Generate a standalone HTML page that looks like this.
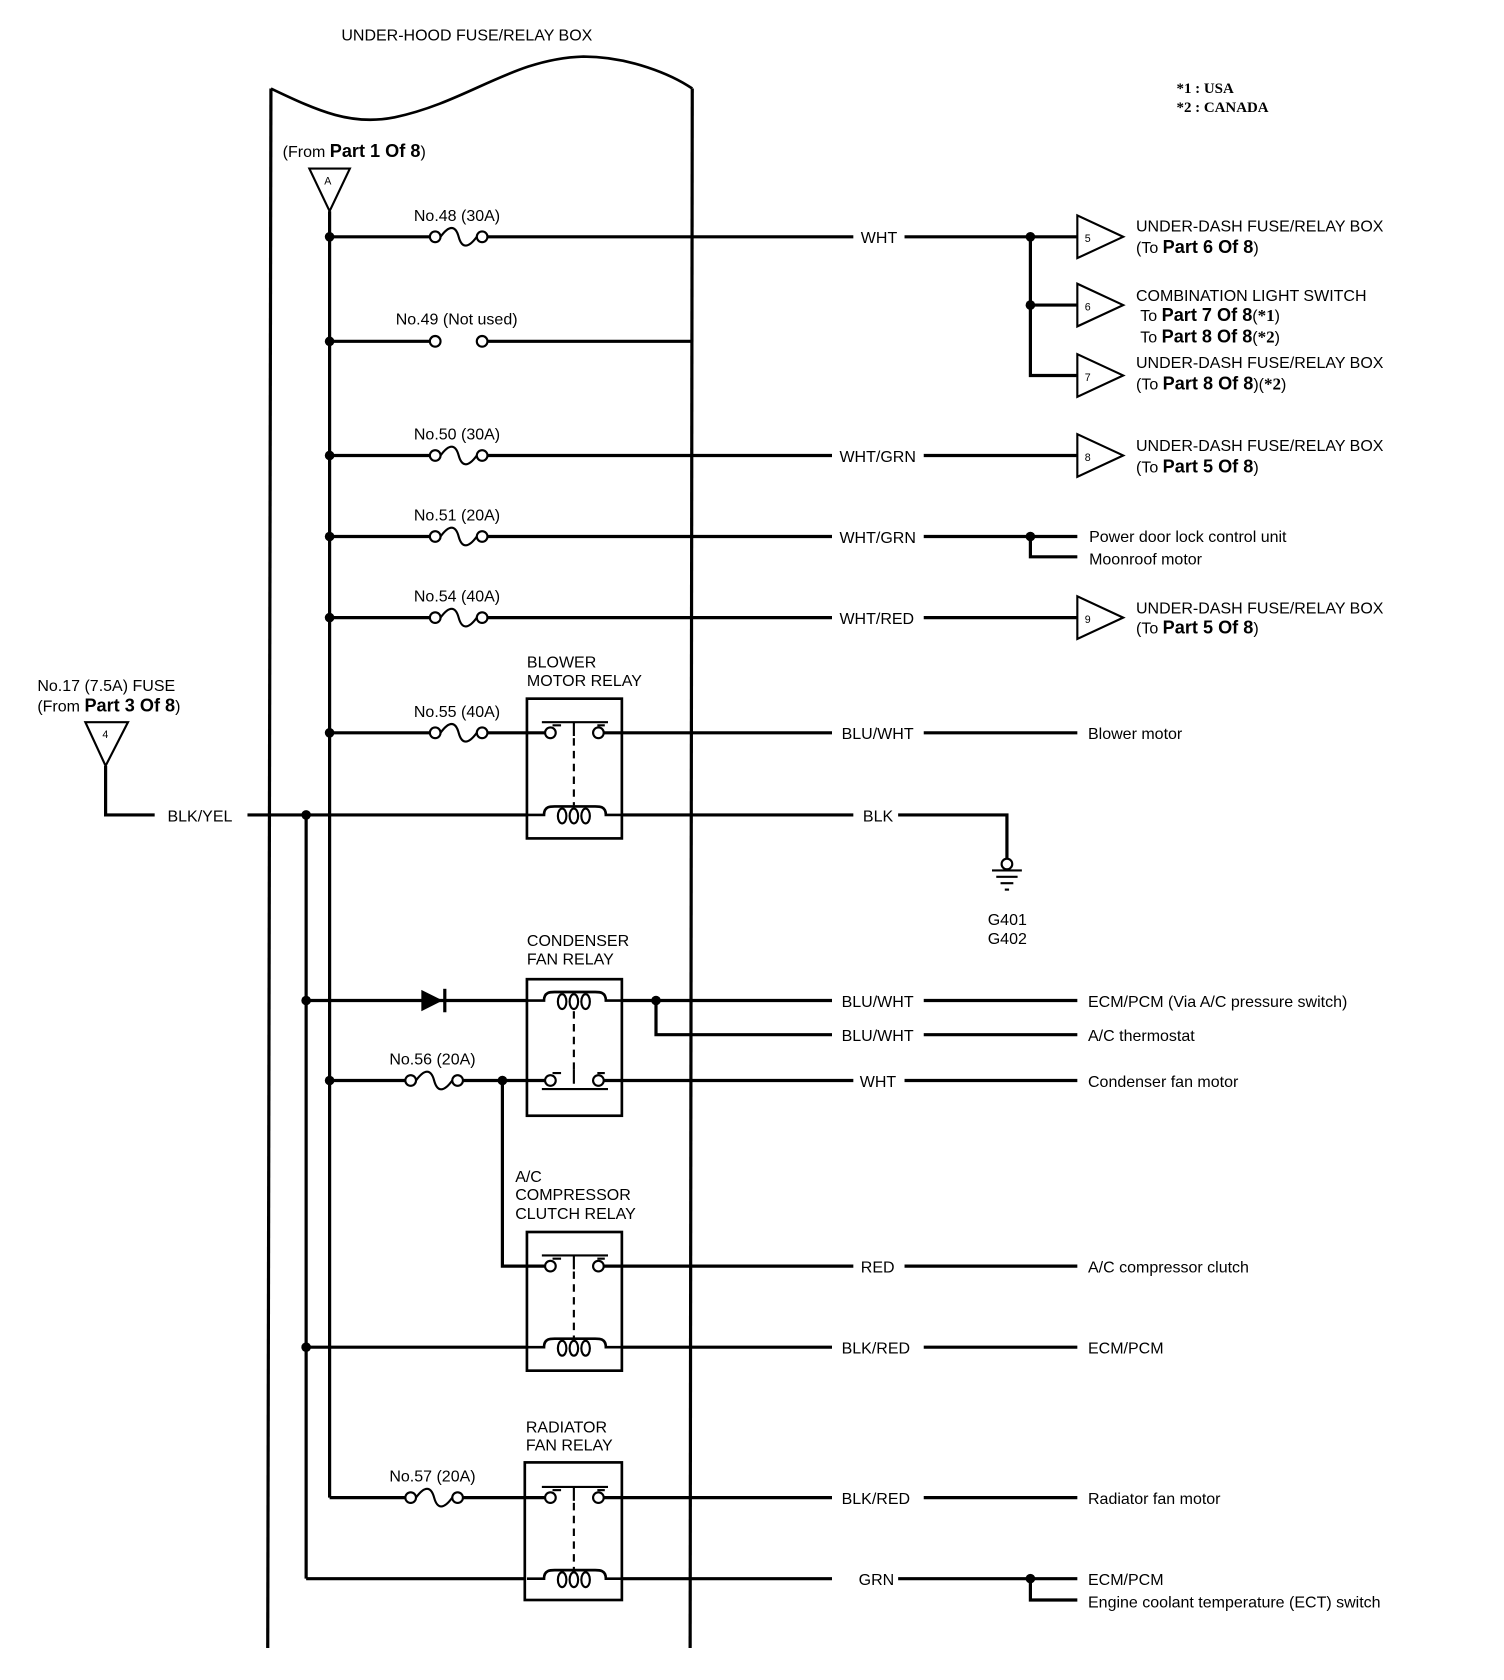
<!DOCTYPE html>
<html><head><meta charset="utf-8"><style>
html,body{margin:0;padding:0;background:#fff}
svg{display:block}
text{font-family:"Liberation Sans",sans-serif;font-size:15px;fill:#000}
.b{font-weight:bold;font-size:17px}
.s{font-family:"Liberation Serif",serif;font-weight:bold;font-size:14px}
</style></head><body>
<svg width="1504" height="1680" viewBox="0 0 1410 1575" xmlns="http://www.w3.org/2000/svg">
<g fill="none" stroke="#000" stroke-width="3">
<!-- box -->
<path d="M254,83 C300,105 330,118 370,110 C440,95 480,55 547,53 C590,53 630,70 649,83" stroke-width="2.5"/>
<line x1="254" y1="83" x2="251" y2="1545"/>
<line x1="649" y1="83" x2="647" y2="1545"/>
<!-- bus -->
<line x1="309" y1="198" x2="309" y2="1404"/>
<line x1="287" y1="764" x2="287" y2="1480"/>
<polygon points="290,158 328,158 309,198" stroke-width="2"/>
<polygon points="80,677 120,677 99,718" stroke-width="2"/>
<polyline points="99,718 99,764 145,764"/>
<line x1="232" y1="764" x2="494" y2="764"/>
<!-- row 48 -->
<line x1="309" y1="222" x2="403" y2="222"/><line x1="457" y1="222" x2="800" y2="222"/>
<line x1="848" y1="222" x2="1010" y2="222"/>
<polyline points="966,222 966,352 1010,352"/><line x1="966" y1="286" x2="1010" y2="286"/>
<!-- row 49 -->
<line x1="309" y1="320" x2="403" y2="320"/><line x1="457" y1="320" x2="649" y2="320"/>
<!-- row 50 -->
<line x1="309" y1="427" x2="403" y2="427"/><line x1="457" y1="427" x2="780" y2="427"/><line x1="866" y1="427" x2="1010" y2="427"/>
<!-- row 51 -->
<line x1="309" y1="503" x2="403" y2="503"/><line x1="457" y1="503" x2="780" y2="503"/><line x1="866" y1="503" x2="1010" y2="503"/>
<polyline points="966,503 966,522 1010,522"/>
<!-- row 54 -->
<line x1="309" y1="579" x2="403" y2="579"/><line x1="457" y1="579" x2="780" y2="579"/><line x1="866" y1="579" x2="1010" y2="579"/>
<!-- row 55 -->
<line x1="309" y1="687" x2="403" y2="687"/><line x1="457" y1="687" x2="511" y2="687"/><line x1="566" y1="687" x2="780" y2="687"/><line x1="866" y1="687" x2="1010" y2="687"/>
<!-- BLK -->
<line x1="583" y1="764" x2="800" y2="764"/><polyline points="842,764 944,764 944,805"/>
<!-- condenser -->
<line x1="287" y1="938" x2="494" y2="938"/>
<line x1="583" y1="938" x2="780" y2="938"/><line x1="866" y1="938" x2="1010" y2="938"/>
<polyline points="615,938 615,970 780,970"/><line x1="866" y1="970" x2="1010" y2="970"/>
<line x1="309" y1="1013" x2="380" y2="1013"/><line x1="434" y1="1013" x2="511" y2="1013"/>
<line x1="566" y1="1013" x2="800" y2="1013"/><line x1="848" y1="1013" x2="1010" y2="1013"/>
<polyline points="471,1013 471,1187 511,1187"/>
<!-- AC -->
<line x1="566" y1="1187" x2="800" y2="1187"/><line x1="848" y1="1187" x2="1010" y2="1187"/>
<line x1="287" y1="1263" x2="494" y2="1263"/>
<line x1="583" y1="1263" x2="780" y2="1263"/><line x1="866" y1="1263" x2="1010" y2="1263"/>
<!-- radiator -->
<polyline points="309,1404 380,1404"/><line x1="434" y1="1404" x2="511" y2="1404"/>
<line x1="566" y1="1404" x2="780" y2="1404"/><line x1="866" y1="1404" x2="1010" y2="1404"/>
<line x1="287" y1="1480" x2="492" y2="1480"/>
<line x1="583" y1="1480" x2="780" y2="1480"/><line x1="842" y1="1480" x2="1010" y2="1480"/>
<polyline points="966,1480 966,1500 1010,1500"/>
<!-- relay boxes -->
<rect x="494" y="655" width="89" height="131" stroke-width="2.5"/>
<rect x="494" y="918" width="89" height="128" stroke-width="2.5"/>
<rect x="494" y="1155" width="89" height="130" stroke-width="2.5"/>
<rect x="492" y="1371" width="91" height="129" stroke-width="2.5"/>
</g>
<g fill="none" stroke="#000" stroke-width="2">
<!-- fuses -->
<path d="M413,222 c8,-11 14,-11 17,0 s9,11 17,0"/>
<path d="M413,427 c8,-11 14,-11 17,0 s9,11 17,0"/>
<path d="M413,503 c8,-11 14,-11 17,0 s9,11 17,0"/>
<path d="M413,579 c8,-11 14,-11 17,0 s9,11 17,0"/>
<path d="M413,687 c8,-11 14,-11 17,0 s9,11 17,0"/>
<path d="M390,1013 c8,-11 14,-11 17,0 s9,11 17,0"/>
<path d="M390,1404 c8,-11 14,-11 17,0 s9,11 17,0"/>
<g fill="#fff">
<circle cx="408" cy="222" r="5"/><circle cx="452" cy="222" r="5"/>
<circle cx="408" cy="320" r="5"/><circle cx="452" cy="320" r="5"/>
<circle cx="408" cy="427" r="5"/><circle cx="452" cy="427" r="5"/>
<circle cx="408" cy="503" r="5"/><circle cx="452" cy="503" r="5"/>
<circle cx="408" cy="579" r="5"/><circle cx="452" cy="579" r="5"/>
<circle cx="408" cy="687" r="5"/><circle cx="452" cy="687" r="5"/>
<circle cx="385" cy="1013" r="5"/><circle cx="429" cy="1013" r="5"/>
<circle cx="385" cy="1404" r="5"/><circle cx="429" cy="1404" r="5"/>
</g>
<!-- relay contacts -->
<g id="c1"><line x1="508" y1="677" x2="570" y2="677"/><line x1="538" y1="677" x2="538" y2="690"/><line x1="518" y1="680" x2="526" y2="680"/><line x1="560" y1="680" x2="567" y2="680"/><circle cx="516" cy="687" r="5" fill="#fff"/><circle cx="561" cy="687" r="5" fill="#fff"/><line x1="538" y1="692" x2="538" y2="755" stroke-dasharray="7,5"/></g>
<g transform="translate(0,326)"><line x1="508" y1="677" x2="570" y2="677" transform="translate(0,18)"/><line x1="538" y1="677" x2="538" y2="690"/><line x1="518" y1="680" x2="526" y2="680"/><line x1="560" y1="680" x2="567" y2="680"/><circle cx="516" cy="687" r="5" fill="#fff"/><circle cx="561" cy="687" r="5" fill="#fff"/></g>
<line x1="538" y1="948" x2="538" y2="1008" stroke-dasharray="7,5"/>
<g transform="translate(0,500)"><line x1="508" y1="677" x2="570" y2="677"/><line x1="538" y1="677" x2="538" y2="690"/><line x1="518" y1="680" x2="526" y2="680"/><line x1="560" y1="680" x2="567" y2="680"/><circle cx="516" cy="687" r="5" fill="#fff"/><circle cx="561" cy="687" r="5" fill="#fff"/><line x1="538" y1="692" x2="538" y2="755" stroke-dasharray="7,5"/></g>
<g transform="translate(0,717)"><line x1="508" y1="677" x2="570" y2="677"/><line x1="538" y1="677" x2="538" y2="690"/><line x1="518" y1="680" x2="526" y2="680"/><line x1="560" y1="680" x2="567" y2="680"/><circle cx="516" cy="687" r="5" fill="#fff"/><circle cx="561" cy="687" r="5" fill="#fff"/><line x1="538" y1="692" x2="538" y2="755" stroke-dasharray="7,5"/></g>
<!-- coils -->
<g id="coil"><path d="M494,764 H510 c0,-8 6,-8 10,-8 H558 c4,0 10,0 10,8 H583" stroke-width="2.5"/><ellipse cx="527" cy="765" rx="4" ry="7"/><ellipse cx="538" cy="765" rx="4" ry="7"/><ellipse cx="549" cy="765" rx="4" ry="7"/></g>
<use href="#coil" transform="translate(0,174)"/>
<use href="#coil" transform="translate(0,499)"/>
<use href="#coil" transform="translate(0,716)"/>
<!-- triangles right -->
<polygon points="1010,202 1010,242 1053,222"/>
<polygon points="1010,266 1010,306 1053,286"/>
<polygon points="1010,332 1010,372 1053,352"/>
<polygon points="1010,407 1010,447 1053,427"/>
<polygon points="1010,559 1010,599 1053,579"/>
<!-- ground -->
<circle cx="944" cy="810" r="5"/>
<line x1="930" y1="816" x2="958" y2="816"/><line x1="934" y1="822" x2="954" y2="822"/><line x1="938" y1="828" x2="950" y2="828"/><line x1="942" y1="834" x2="946" y2="834"/>
</g>
<!-- diode -->
<polygon points="395,928 395,948 415,938" fill="#000"/><line x1="417" y1="927" x2="417" y2="949" stroke="#000" stroke-width="3"/>
<!-- junctions -->
<g fill="#000">
<circle cx="309" cy="222" r="4.5"/><circle cx="309" cy="320" r="4.5"/><circle cx="309" cy="427" r="4.5"/><circle cx="309" cy="503" r="4.5"/><circle cx="309" cy="579" r="4.5"/><circle cx="309" cy="687" r="4.5"/><circle cx="309" cy="1013" r="4.5"/>
<circle cx="287" cy="764" r="4.5"/><circle cx="287" cy="938" r="4.5"/><circle cx="287" cy="1263" r="4.5"/>
<circle cx="966" cy="222" r="4.5"/><circle cx="966" cy="286" r="4.5"/><circle cx="966" cy="503" r="4.5"/><circle cx="966" cy="1480" r="4.5"/>
<circle cx="615" cy="938" r="4.5"/><circle cx="471" cy="1013" r="4.5"/>
</g>
<!-- texts -->
<text x="320" y="38">UNDER-HOOD FUSE/RELAY BOX</text>
<text x="1103" y="87" class="s">*1  : USA</text>
<text x="1103" y="105" class="s">*2  : CANADA</text>
<text x="265" y="147">(From <tspan class="b">Part 1 Of 8</tspan>)</text>
<text x="304" y="173" font-size="10" style="font-size:10px">A</text>
<text x="96" y="692" style="font-size:10px">4</text>
<text x="388" y="207">No.48 (30A)</text>
<text x="371" y="304">No.49 (Not used)</text>
<text x="388" y="412">No.50 (30A)</text>
<text x="388" y="488">No.51 (20A)</text>
<text x="388" y="564">No.54 (40A)</text>
<text x="388" y="672">No.55 (40A)</text>
<text x="365" y="998">No.56 (20A)</text>
<text x="365" y="1389">No.57 (20A)</text>
<text x="807" y="228">WHT</text>
<text x="787" y="433">WHT/GRN</text>
<text x="787" y="509">WHT/GRN</text>
<text x="787" y="585">WHT/RED</text>
<text x="789" y="693">BLU/WHT</text>
<text x="157" y="770">BLK/YEL</text>
<text x="809" y="770">BLK</text>
<text x="789" y="944">BLU/WHT</text>
<text x="789" y="976">BLU/WHT</text>
<text x="806" y="1019">WHT</text>
<text x="807" y="1193">RED</text>
<text x="789" y="1269">BLK/RED</text>
<text x="789" y="1410">BLK/RED</text>
<text x="805" y="1486">GRN</text>
<text x="1017" y="227" style="font-size:10px">5</text>
<text x="1017" y="291" style="font-size:10px">6</text>
<text x="1017" y="357" style="font-size:10px">7</text>
<text x="1017" y="432" style="font-size:10px">8</text>
<text x="1017" y="584" style="font-size:10px">9</text>
<text x="1065" y="217">UNDER-DASH FUSE/RELAY BOX</text>
<text x="1065" y="237">(To <tspan class="b">Part 6 Of 8</tspan>)</text>
<text x="1065" y="282">COMBINATION LIGHT SWITCH</text>
<text x="1069" y="301">To <tspan class="b">Part 7 Of 8</tspan>(<tspan class="s" style="font-size:16px">*1</tspan>)</text>
<text x="1069" y="321">To <tspan class="b">Part 8 Of 8</tspan>(<tspan class="s" style="font-size:16px">*2</tspan>)</text>
<text x="1065" y="345">UNDER-DASH FUSE/RELAY BOX</text>
<text x="1065" y="365">(To <tspan class="b">Part 8 Of 8</tspan>)(<tspan class="s" style="font-size:16px">*2</tspan>)</text>
<text x="1065" y="423">UNDER-DASH FUSE/RELAY BOX</text>
<text x="1065" y="443">(To  <tspan class="b">Part 5 Of 8</tspan>)</text>
<text x="1021" y="508">Power door lock control unit</text>
<text x="1021" y="529">Moonroof motor</text>
<text x="1065" y="575">UNDER-DASH FUSE/RELAY BOX</text>
<text x="1065" y="594">(To <tspan class="b">Part 5 Of 8</tspan>)</text>
<text x="1020" y="693">Blower motor</text>
<text x="926" y="867">G401</text>
<text x="926" y="885">G402</text>
<text x="1020" y="944">ECM/PCM (Via A/C pressure switch)</text>
<text x="1020" y="976">A/C thermostat</text>
<text x="1020" y="1019">Condenser fan motor</text>
<text x="1020" y="1193">A/C compressor clutch</text>
<text x="1020" y="1269">ECM/PCM</text>
<text x="1020" y="1410">Radiator fan motor</text>
<text x="1020" y="1486">ECM/PCM</text>
<text x="1020" y="1507">Engine coolant temperature (ECT) switch</text>
<text x="35" y="648">No.17 (7.5A) FUSE</text>
<text x="35" y="667">(From <tspan class="b">Part 3 Of 8</tspan>)</text>
<text x="494" y="626">BLOWER</text>
<text x="494" y="643">MOTOR RELAY</text>
<text x="494" y="887">CONDENSER</text>
<text x="494" y="904">FAN RELAY</text>
<text x="483" y="1108">A/C</text>
<text x="483" y="1125">COMPRESSOR</text>
<text x="483" y="1143">CLUTCH RELAY</text>
<text x="493" y="1343">RADIATOR</text>
<text x="493" y="1360">FAN RELAY</text>
</svg>
</body></html>
